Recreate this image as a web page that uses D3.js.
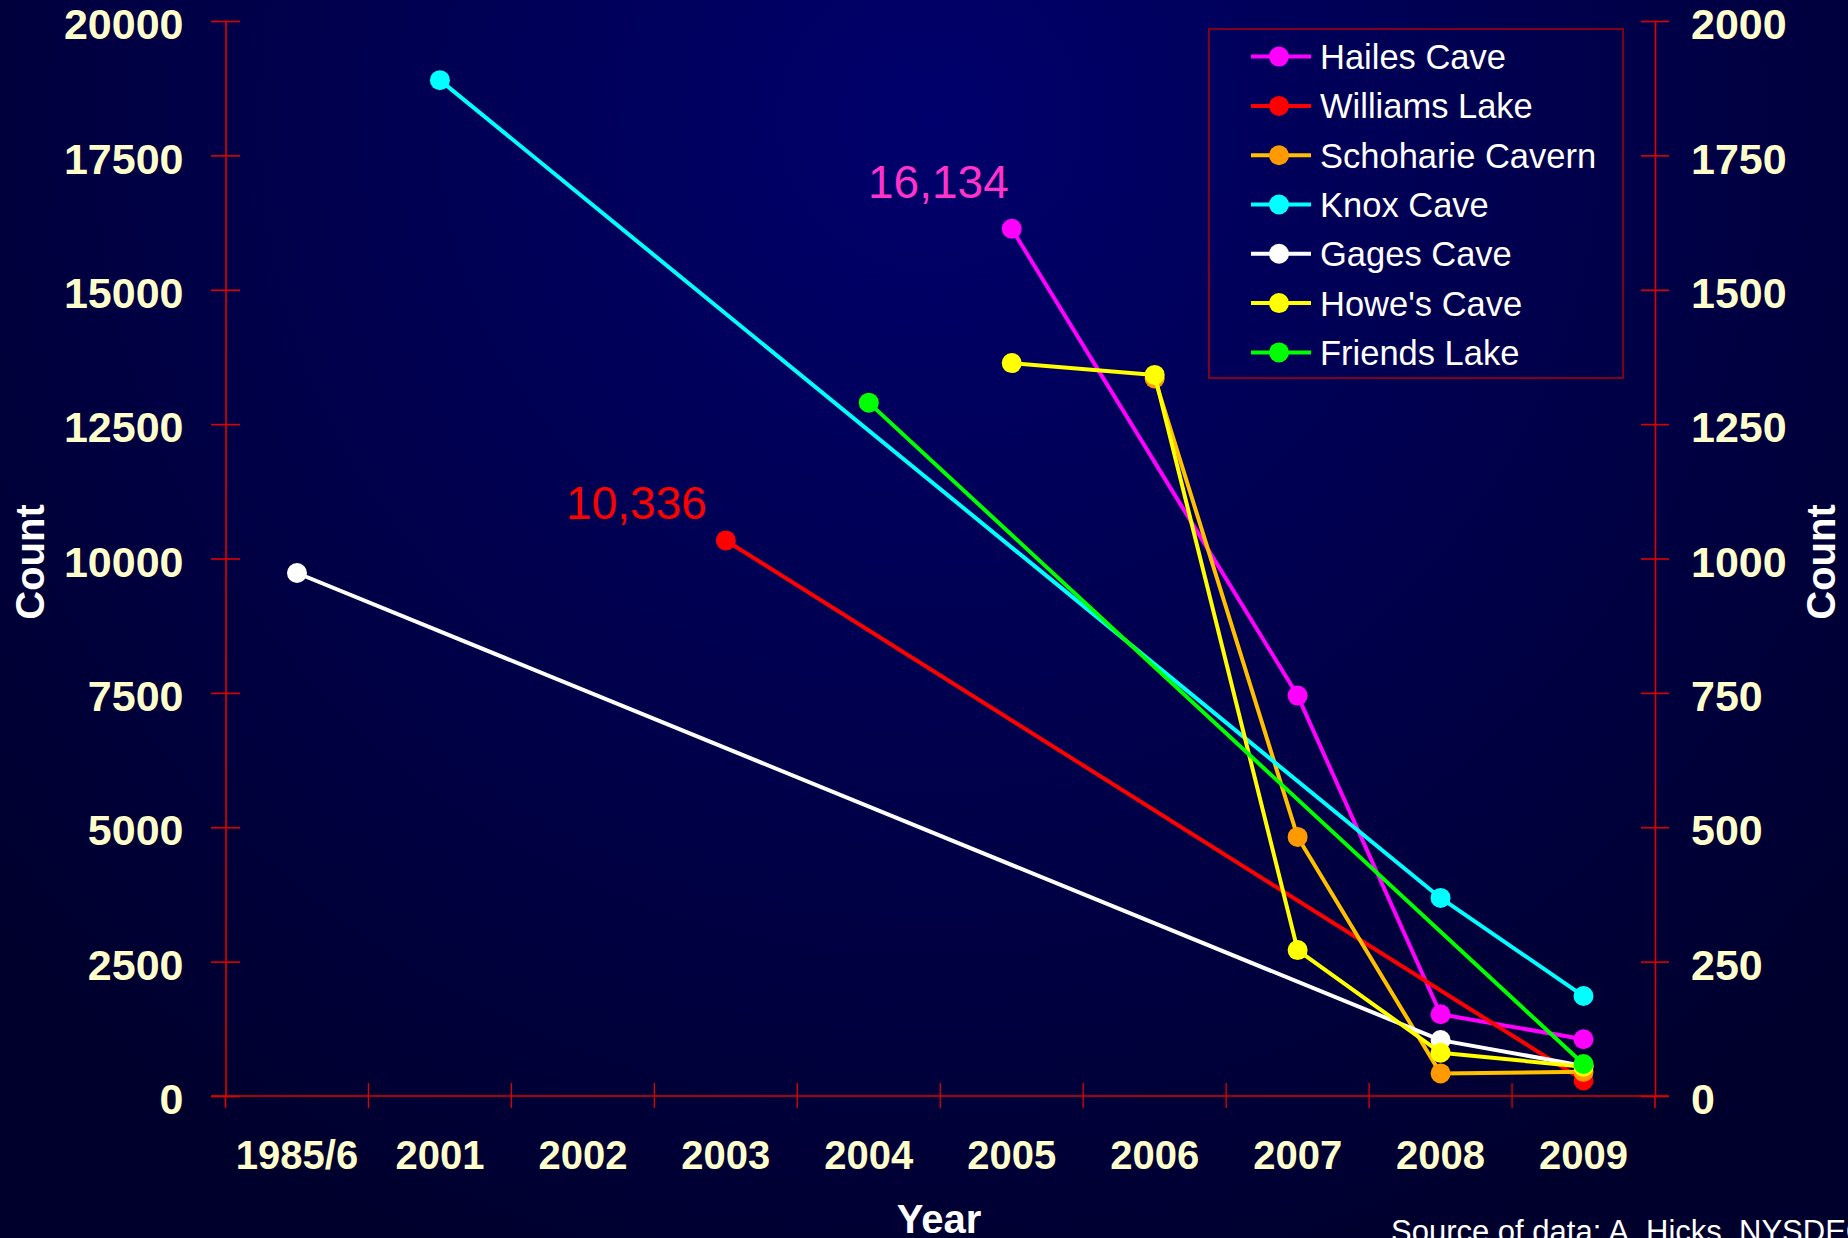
<!DOCTYPE html>
<html>
<head>
<meta charset="utf-8">
<script src="https://cdn.jsdelivr.net/npm/d3@7"></script>
<style>
  html, body { margin: 0; padding: 0; background: #000033; overflow: hidden; }
  svg { display: block; }
</style>
</head>
<body>
<script>
// Bat counts at hibernacula, by survey year
const years = ["1985/6", "2001", "2002", "2003", "2004", "2005", "2006", "2007", "2008", "2009"];
const leftTicks = [0, 2500, 5000, 7500, 10000, 12500, 15000, 17500, 20000];
const rightTicks = [0, 250, 500, 750, 1000, 1250, 1500, 1750, 2000];

const seriesNames = ["Hailes Cave", "Williams Lake", "Schoharie Cavern", "Knox Cave", "Gages Cave", "Howe's Cave", "Friends Lake"];
const hailesCave      = [null, null, null, null, null, 16134, null, 7450, 1520, 1055];
const williamsLake    = [null, null, null, 10336, null, null, null, null, null, 290];
const schoharieCavern = [null, null, null, null, null, null, 13350, 4820, 420, 450];
const knoxCave        = [null, 18900, null, null, null, null, null, null, 3685, 1860];
const gagesCave       = [9730, null, null, null, null, null, null, null, 1040, 560];
const howesCave       = [null, null, null, null, null, 13635, 13415, 2715, 805, 545];
const friendsLake     = [null, null, null, null, 12900, null, null, null, null, 595];
const seriesValues = [hailesCave, williamsLake, schoharieCavern, knoxCave, gagesCave, howesCave, friendsLake];

const lineColors   = ["#ff00ff", "#ff0000", "#ffc000", "#00ffff", "#ffffff", "#ffff00", "#00ff00"];
const markerColors = ["#ff00ff", "#ff0000", "#ff9900", "#00ffff", "#ffffff", "#ffff00", "#00ff00"];

// Values called out on the chart
const calloutSeries = ["Hailes Cave", "Williams Lake"];
const calloutYears  = ["2005", "2003"];
const calloutColors = ["#ff33cc", "#ff0000"];
const calloutOffsets = [[-3, -31], [-19, -21]];

const W = 1848, H = 1238;
const margin = { left: 225.5, right: W - 1655, top: 21, bottom: H - 1096 };

const svg = d3.select("body").append("svg")
  .attr("width", W).attr("height", H);

// Background
const defs = svg.append("defs");
const grad = defs.append("radialGradient")
  .attr("id", "bg").attr("gradientUnits", "userSpaceOnUse")
  .attr("cx", 930).attr("cy", 120).attr("r", 1250);
grad.append("stop").attr("offset", "0%").attr("stop-color", "#00006c");
grad.append("stop").attr("offset", "45%").attr("stop-color", "#000050");
grad.append("stop").attr("offset", "100%").attr("stop-color", "#00002c");
svg.append("rect").attr("width", W).attr("height", H).attr("fill", "url(#bg)");

const x = d3.scaleBand().domain(years).range([margin.left, W - margin.right]).padding(0);
const yL = d3.scaleLinear().domain([0, 20000]).range([H - margin.bottom, margin.top]);
const yR = d3.scaleLinear().domain([0, 2000]).range([H - margin.bottom, margin.top]);

const axisColor = "#e00000";
const tickFont = "'Liberation Sans', Arial, sans-serif";
const cream = "#ffffcc";

// Left axis
const gL = svg.append("g").attr("transform", `translate(${margin.left},0)`)
  .call(d3.axisLeft(yL).tickValues(leftTicks).tickSize(14).tickSizeOuter(0).tickFormat(d3.format("d")));
gL.select(".domain").attr("stroke", axisColor).attr("stroke-width", 1.6);
gL.selectAll(".tick line").attr("x1", -14.5).attr("x2", 14.5).attr("stroke", axisColor).attr("stroke-width", 1.6);
gL.selectAll(".tick text")
  .attr("x", -42).attr("dy", "0.41em")
  .attr("fill", cream).attr("font-family", tickFont).attr("font-weight", "bold").attr("font-size", 43);

// Right axis
const gR = svg.append("g").attr("transform", `translate(${W - margin.right},0)`)
  .call(d3.axisRight(yR).tickValues(rightTicks).tickSize(14).tickSizeOuter(0).tickFormat(d3.format("d")));
gR.select(".domain").attr("stroke", axisColor).attr("stroke-width", 1.6);
gR.selectAll(".tick line").attr("x1", -14).attr("x2", 14).attr("stroke", axisColor).attr("stroke-width", 1.6);
gR.selectAll(".tick text")
  .attr("x", 36).attr("dy", "0.41em")
  .attr("fill", cream).attr("font-family", tickFont).attr("font-weight", "bold").attr("font-size", 43);

// Bottom axis: labels at band centres, tick marks at band boundaries
const y0 = H - margin.bottom;
const gB = svg.append("g").attr("transform", `translate(0,${y0})`)
  .call(d3.axisBottom(x).tickSize(0).tickSizeOuter(0));
gB.select(".domain").remove();
gB.selectAll(".tick text")
  .attr("y", 73).attr("dy", 0)
  .attr("fill", cream).attr("font-family", tickFont).attr("font-weight", "bold").attr("font-size", 40);
gB.append("line")
  .attr("x1", margin.left - 14.5).attr("x2", W - margin.right + 14)
  .attr("stroke", axisColor).attr("stroke-width", 1.6);
gB.selectAll(".bound").data(years.slice(1)).join("line")
  .attr("class", "bound")
  .attr("x1", d => x(d)).attr("x2", d => x(d))
  .attr("y1", -13).attr("y2", 12)
  .attr("stroke", axisColor).attr("stroke-width", 1.3);
gB.selectAll(".edge").data([margin.left, W - margin.right]).join("line")
  .attr("class", "edge")
  .attr("x1", d => d).attr("x2", d => d).attr("y1", 0).attr("y2", 12)
  .attr("stroke", axisColor).attr("stroke-width", 1.6);

// Axis titles
svg.append("text")
  .attr("transform", `translate(44,562) rotate(-90)`)
  .attr("text-anchor", "middle")
  .attr("fill", "#ffffff").attr("font-family", tickFont).attr("font-weight", "bold").attr("font-size", 40)
  .text("Count");
svg.append("text")
  .attr("transform", `translate(1835,562) rotate(-90)`)
  .attr("text-anchor", "middle")
  .attr("fill", "#ffffff").attr("font-family", tickFont).attr("font-weight", "bold").attr("font-size", 40)
  .text("Count");
svg.append("text")
  .attr("x", 939).attr("y", 1233)
  .attr("text-anchor", "middle")
  .attr("fill", "#ffffff").attr("font-family", tickFont).attr("font-weight", "bold").attr("font-size", 40)
  .text("Year");
svg.append("text")
  .attr("x", 1391).attr("y", 1242)
  .attr("fill", "#ffffff").attr("font-family", tickFont).attr("font-size", 31)
  .text("Source of data: A. Hicks, NYSDEC");

// Series lines and markers
const cx = d => x(d.year) + x.bandwidth() / 2;
const line = d3.line().x(cx).y(d => yL(d.value));

const series = seriesNames.map((name, i) => ({
  name,
  color: lineColors[i],
  marker: markerColors[i],
  points: years.map((year, j) => ({ year, value: seriesValues[i][j] })).filter(p => p.value != null)
}));

const gS = svg.append("g");
series.forEach(s => {
  const g = gS.append("g");
  g.append("path").datum(s.points)
    .attr("d", line)
    .attr("fill", "none").attr("stroke", s.color).attr("stroke-width", 4)
    .attr("stroke-linejoin", "round");
  g.selectAll("circle").data(s.points).join("circle")
    .attr("cx", cx).attr("cy", d => yL(d.value)).attr("r", 10)
    .attr("fill", s.marker);
});

// Value callouts
calloutSeries.forEach((name, i) => {
  const s = series.find(d => d.name === name);
  const p = s.points.find(d => d.year === calloutYears[i]);
  svg.append("text")
    .attr("x", cx(p) + calloutOffsets[i][0])
    .attr("y", yL(p.value) + calloutOffsets[i][1])
    .attr("text-anchor", "end")
    .attr("fill", calloutColors[i])
    .attr("font-family", tickFont).attr("font-size", 46)
    .text(d3.format(",")(p.value));
});

// Legend
const legend = svg.append("g");
legend.append("rect")
  .attr("x", 1209).attr("y", 29).attr("width", 414).attr("height", 349)
  .attr("fill", "none").attr("stroke", "#a00010").attr("stroke-width", 1.6);
const rows = legend.selectAll(".row").data(series).join("g")
  .attr("class", "row")
  .attr("transform", (d, i) => `translate(0,${56.6 + i * 49.3})`);
rows.append("line")
  .attr("x1", 1251).attr("x2", 1311).attr("y1", 0).attr("y2", 0)
  .attr("stroke", d => d.color).attr("stroke-width", 4);
rows.append("circle")
  .attr("cx", 1279).attr("cy", 0).attr("r", 10)
  .attr("fill", d => d.marker);
rows.append("text")
  .attr("x", 1320).attr("y", 0).attr("dy", "0.36em")
  .attr("fill", "#ffffff").attr("font-family", tickFont).attr("font-size", 34.5)
  .text(d => d.name);
</script>
</body>
</html>
